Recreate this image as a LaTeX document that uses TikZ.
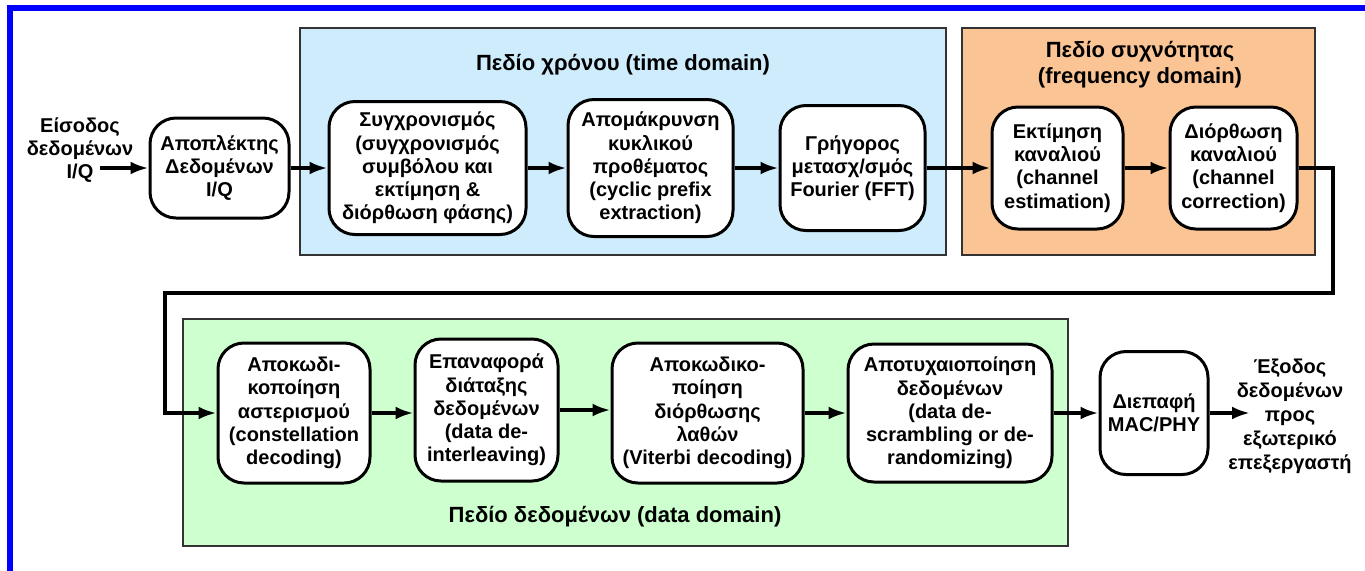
\documentclass[tikz,border=0pt]{standalone}
\usepackage{fontspec}
\setmainfont{Liberation Sans}
\usetikzlibrary{arrows.meta}
\tikzset{>={Latex[length=9pt,width=6.5pt]}}
\definecolor{timebg}{RGB}{206,236,252}
\definecolor{freqbg}{RGB}{250,196,148}
\definecolor{databg}{RGB}{206,255,206}
\newcommand\blkfont{\fontsize{10}{11.6}\selectfont\bfseries}
\newcommand\ttlfont{\fontsize{11}{13}\selectfont\bfseries}
\tikzstyle{block}=[draw,line width=1.5pt,rounded corners=13pt,fill=white,align=center,font=\blkfont,inner sep=1pt]
\tikzstyle{zone}=[draw=black!80,line width=1pt]
\tikzstyle{zonetitle}=[align=center,font=\ttlfont]
\tikzstyle{io}=[align=center,font=\blkfont,inner sep=0pt]
\tikzstyle{flow}=[->,line width=1.8pt]

\begin{document}
\begin{tikzpicture}[x=0.5pt,y=-0.5pt]

  \useasboundingbox (0,0) rectangle (1365,570);
  \clip (0,0) rectangle (1365,570);

  % outer frame
  \draw[blue,line width=3pt] (10,8) rectangle (1420,620);

  % domains
  \draw[zone,fill=timebg] (300,28) rectangle (946,255);
  \draw[zone,fill=freqbg] (962,28) rectangle (1315,255);
  \draw[zone,fill=databg] (183,319) rectangle (1068,546);
  \node[zonetitle] (ttime) at (623,65) {Πεδίο χρόνου (time domain)};
  \node[zonetitle] (tfreq) at (1140,65) {Πεδίο συχνότητας\\(frequency domain)};
  \node[zonetitle] (tdata) at (615,517) {Πεδίο δεδομένων (data domain)};

  % top row
  \node[io] (in) at (80,150) {Είσοδος\\δεδομένων\\I/Q};
  \coordinate (inq) at (100,168);
  \node[block,minimum width=69.5pt,minimum height=50pt] (demux) at (219.5,168)
    {Αποπλέκτης\\Δεδομένων\\I/Q};
  \node[block,minimum width=98.5pt,minimum height=66.5pt] (sync) at (427.5,168)
    {Συγχρονισμός\\(συγχρονισμός\\συμβόλου και\\εκτίμηση \&\\διόρθωση φάσης)};
  \node[block,minimum width=82.5pt,minimum height=68.5pt] (cpx) at (650.5,168)
    {Απομάκρυνση\\κυκλικού\\προθέματος\\(cyclic prefix\\extraction)};
  \node[block,minimum width=72.5pt,minimum height=62.5pt] (fft) at (852.5,168)
    {Γρήγορος\\μετασχ/σμός\\Fourier (FFT)};
  \node[block,minimum width=65.5pt,minimum height=61pt] (chest) at (1057.5,168)
    {Εκτίμηση\\καναλιού\\(channel\\estimation)};
  \node[block,minimum width=63.5pt,minimum height=61pt] (chcor) at (1233.5,168)
    {Διόρθωση\\καναλιού\\(channel\\correction)};

  % bottom row
  \node[block,minimum width=76pt,minimum height=70pt] (const) at (294,413)
    {Αποκωδι-\\κοποίηση\\αστερισμού\\(constellation\\decoding)};
  \node[block,minimum width=71.5pt,minimum height=71pt] (deint) at (486.5,410)
    {Επαναφορά\\διάταξης\\δεδομένων\\(data de-\\interleaving)};
  \node[block,minimum width=95.5pt,minimum height=70pt] (vit) at (707.5,413)
    {Αποκωδικο-\\ποίηση\\διόρθωσης\\λαθών\\(Viterbi decoding)};
  \node[block,minimum width=102pt,minimum height=69pt] (descr) at (950,413)
    {Αποτυχαιοποίηση\\δεδομένων\\(data de-\\scrambling or de-\\randomizing)};
  \node[block,minimum width=54pt,minimum height=61.5pt] (mac) at (1154,413)
    {Διεπαφή\\MAC/PHY};
  \node[io,font=\fontsize{10}{12}\selectfont\bfseries] (out) at (1290,416)
    {Έξοδος\\δεδομένων\\προς\\εξωτερικό\\επεξεργαστή};
  \coordinate (outq) at (1250,413);

  % connections
  \draw[flow] (inq) -- (demux);
  \draw[flow] (demux) -- (sync);
  \draw[flow] (sync) -- (cpx);
  \draw[flow] (cpx) -- (fft);
  \draw[flow] (fft) -- (chest);
  \draw[flow] (chest) -- (chcor);
  \coordinate (fbr) at (1333,293);
  \coordinate (fbl) at (165,293);
  \draw[flow] (chcor.east) -| (fbr) -- (fbl) |- (const.west);
  \draw[flow] (const.east) -- (const.east -| deint.west);
  \draw[flow] (deint.east) -- (deint.east -| vit.west);
  \draw[flow] (vit) -- (descr);
  \draw[flow] (descr) -- (mac);
  \draw[flow] (mac) -- (outq);

\end{tikzpicture}
\end{document}
